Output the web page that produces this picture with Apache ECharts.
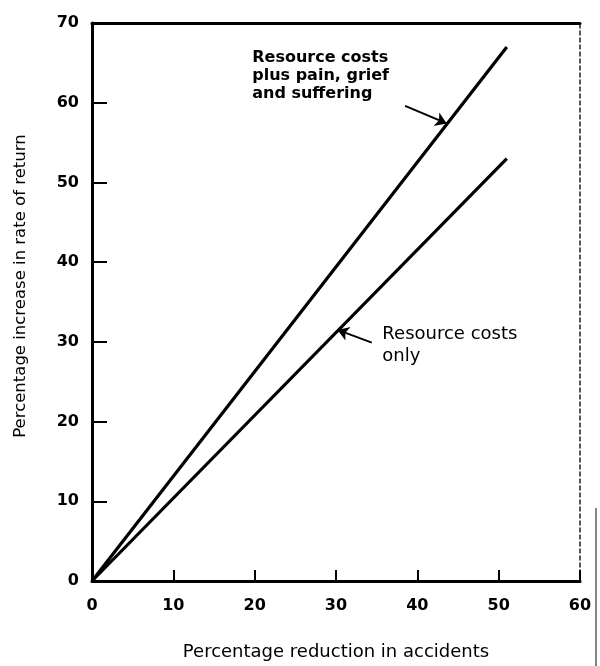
<!DOCTYPE html>
<html>
<head>
<meta charset="utf-8">
<script src="https://cdn.jsdelivr.net/npm/echarts@6/dist/echarts.min.js"></script>
<style>html,body{margin:0;padding:0;background:#fff}#c{width:600px;height:666px}</style>
</head>
<body>
<div id="c"></div>
<script>
// Data
var xTicks = [0, 10, 20, 30, 40, 50, 60];
var yTicks = [0, 10, 20, 30, 40, 50, 60, 70];
var seriesNames = ['Resource costs plus pain, grief and suffering', 'Resource costs only'];
var painX = [0, 51];
var painY = [0, 67];
var onlyX = [0, 51];
var onlyY = [0, 53];
var label1 = ['Resource costs', 'plus pain, grief', 'and suffering'];
var label2 = ['Resource costs', 'only'];
var arrow1 = [[38.5, 59.6], [43.6, 57.4]];
var arrow2 = [[34.4, 29.9], [30.2, 31.5]];
var label1Pos = [19.7, 63.4];
var label2Pos = [35.7, 29.6];

var FONT = 'DejaVu Sans';
var chart = echarts.init(document.getElementById('c'));

function pairs(xs, ys) { return xs.map(function (x, i) { return [x, ys[i]]; }); }

var axisLine = { show: true, onZero: false, lineStyle: { color: '#000', width: 3 } };

chart.setOption({
  animation: false,
  backgroundColor: '#fff',
  grid: { left: 92, right: 20, top: 23, bottom: 70, containLabel: false },
  xAxis: [{
    type: 'value', min: 0, max: 60, interval: 10, position: 'bottom',
    axisLine: axisLine,
    axisTick: { show: true, inside: true, length: 11, lineStyle: { color: '#000', width: 2 } },
    axisLabel: { color: '#000', fontFamily: FONT, fontWeight: 'bold', fontSize: 16, margin: 17 },
    splitLine: { show: false },
    name: 'Percentage reduction in accidents', nameLocation: 'middle', nameGap: 62,
    nameTextStyle: { color: '#000', fontFamily: FONT, fontSize: 18 }
  }, {
    type: 'value', min: 0, max: 60, position: 'top',
    axisLine: axisLine, axisTick: { show: false }, axisLabel: { show: false }, splitLine: { show: false }
  }],
  yAxis: [{
    type: 'value', min: 0, max: 70, interval: 10, position: 'left',
    axisLine: axisLine,
    axisTick: { show: true, inside: true, length: 15, lineStyle: { color: '#000', width: 2 } },
    axisLabel: { color: '#000', fontFamily: FONT, fontWeight: 'bold', fontSize: 16, margin: 13 },
    splitLine: { show: false }
  }, {
    type: 'value', min: 0, max: 70, position: 'right',
    axisLine: { show: true, onZero: false, lineStyle: { color: '#222', width: 1.5, type: [4, 3] } },
    axisTick: { show: false }, axisLabel: { show: false }, splitLine: { show: false }
  }],
  series: [{
    name: seriesNames[0], type: 'line', data: pairs(painX, painY), symbol: 'none',
    lineStyle: { color: '#000', width: 3.2 },
    markLine: {
      silent: true, symbol: ['none', 'arrow'], symbolSize: 11, label: { show: false },
      lineStyle: { color: '#000', width: 2, type: 'solid' },
      data: [[{ coord: arrow1[0] }, { coord: arrow1[1] }]]
    }
  }, {
    name: seriesNames[1], type: 'line', data: pairs(onlyX, onlyY), symbol: 'none',
    lineStyle: { color: '#000', width: 3.2 },
    markLine: {
      silent: true, symbol: ['none', 'arrow'], symbolSize: 11, label: { show: false },
      lineStyle: { color: '#000', width: 2, type: 'solid' },
      data: [[{ coord: arrow2[0] }, { coord: arrow2[1] }]]
    }
  }]
});

var p1 = chart.convertToPixel({ gridIndex: 0 }, label1Pos);
var p2 = chart.convertToPixel({ gridIndex: 0 }, label2Pos);
var yMid = chart.convertToPixel({ gridIndex: 0 }, [0, 37]);

chart.setOption({
  graphic: [{
    type: 'text', x: p1[0], y: p1[1],
    style: { text: label1.join('\n'), fill: '#000', font: 'bold 16px "' + FONT + '"', lineHeight: 18, textAlign: 'left', textVerticalAlign: 'middle' }
  }, {
    type: 'text', x: p2[0], y: p2[1],
    style: { text: label2.join('\n'), fill: '#000', font: '18px "' + FONT + '"', lineHeight: 22, textAlign: 'left', textVerticalAlign: 'middle' }
  }, {
    type: 'text', x: 21, y: yMid[1], rotation: Math.PI / 2,
    style: { text: 'Percentage increase in rate of return', fill: '#000', font: '16.5px "' + FONT + '"', textAlign: 'center', textVerticalAlign: 'middle' }
  }, {
    type: 'line', shape: { x1: 596, y1: 508, x2: 596, y2: 666 },
    style: { stroke: '#333', lineWidth: 1.2 }
  }]
});
</script>
</body>
</html>
